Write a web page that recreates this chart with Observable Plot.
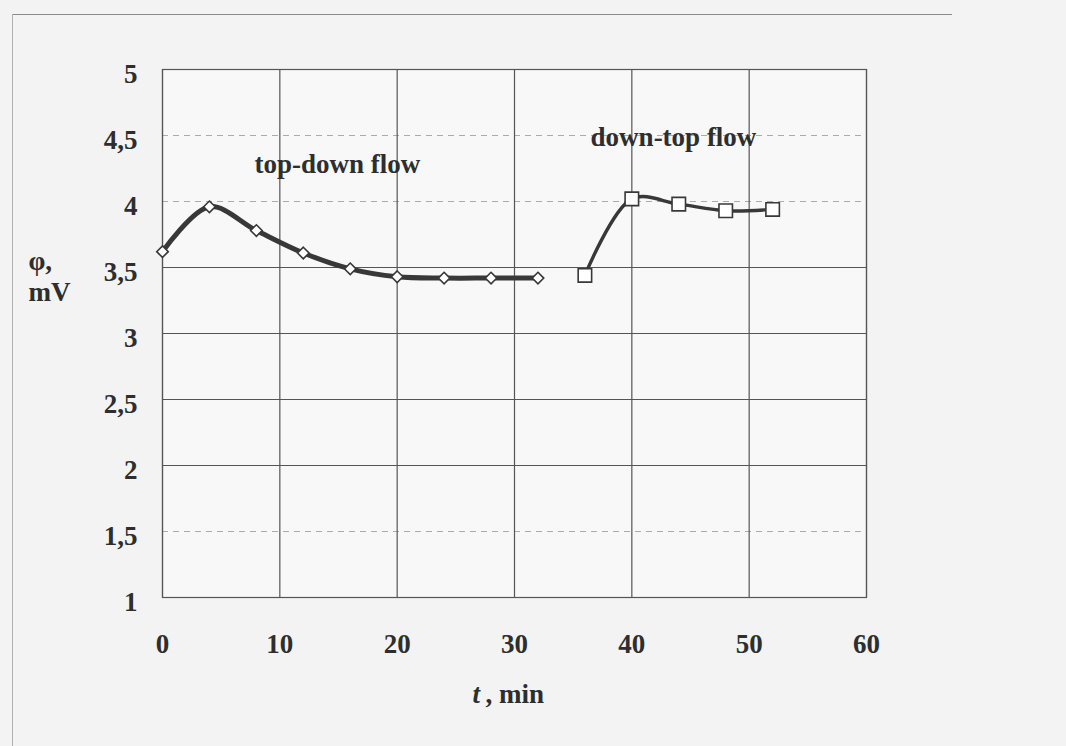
<!DOCTYPE html>
<html>
<head>
<meta charset="utf-8">
<script src="https://cdn.jsdelivr.net/npm/d3@7"></script>
<script src="https://cdn.jsdelivr.net/npm/@observablehq/plot@0.6"></script>
<style>
  html, body { margin: 0; padding: 0; background: #f3f3f4; }
  #chart { position: relative; width: 1066px; height: 746px; overflow: hidden; }
  #frame-top { position: absolute; left: 12px; top: 14px; width: 940px; height: 0; border-top: 1px solid #8a8a8a; }
  #frame-left { position: absolute; left: 12px; top: 14px; width: 0; height: 740px; border-left: 1px solid #b0b0b0; }
  svg text { font-family: "Liberation Serif", "Times New Roman", serif; }
</style>
</head>
<body>
<div id="chart"><div id="frame-top"></div><div id="frame-left"></div></div>
<script>
// Time (min) and potential φ (mV)
const topDownT = [0, 4, 8, 12, 16, 20, 24, 28, 32];
const topDownPhi = [3.62, 3.96, 3.78, 3.61, 3.49, 3.43, 3.42, 3.42, 3.42];
const downTopT = [36, 40, 44, 48, 52];
const downTopPhi = [3.44, 4.02, 3.98, 3.93, 3.94];

const xTicks = [0, 10, 20, 30, 40, 50, 60];
const yTicks = [1, 1.5, 2, 2.5, 3, 3.5, 4, 4.5, 5];
const yTickLabels = ["1", "1,5", "2", "2,5", "3", "3,5", "4", "4,5", "5"];
const faintY = [1.5, 4, 4.5];

const seriesNames = ["top-down flow", "down-top flow"];

const topDown = topDownT.map((t, i) => ({t, phi: topDownPhi[i]}));
const downTop = downTopT.map((t, i) => ({t, phi: downTopPhi[i]}));

const FS = 27;
const font = {fontFamily: "Liberation Serif, Times New Roman, serif", fontWeight: "bold", fill: "#2e2e2e"};

const plot = Plot.plot({
  width: 1066,
  height: 746,
  marginLeft: 162,
  marginRight: 200,
  marginTop: 69,
  marginBottom: 149,
  style: {background: "transparent", fontFamily: "Liberation Serif, Times New Roman, serif", fontSize: FS + "px", fontWeight: "bold", color: "#2e2e2e", overflow: "visible"},
  x: {domain: [0, 60], label: null},
  y: {domain: [1, 5], label: null},
  marks: [
    Plot.frame({fill: "#f8f8f8"}),
    Plot.ruleY(yTicks.filter(v => !faintY.includes(v)), {y: d => d, stroke: "#555555", strokeWidth: 1.2}),
    Plot.ruleY(faintY, {y: d => d, stroke: "#8a8a8a", strokeWidth: 1, strokeDasharray: "6,5", strokeOpacity: 0.7}),
    Plot.ruleX(xTicks, {x: d => d, stroke: "#555555", strokeWidth: 1.2}),
    Plot.frame({stroke: "#555555", strokeWidth: 1.2}),
    Plot.axisX({ticks: xTicks, tickSize: 0, tickPadding: 36, fontSize: FS, ...font, label: null}),
    Plot.axisY({ticks: yTicks, tickSize: 0, tickPadding: 25, fontSize: FS, ...font, dy: 5, label: null,
      tickFormat: v => yTickLabels[yTicks.indexOf(v)]}),
    Plot.line(topDown, {x: "t", y: "phi", curve: "catmull-rom", stroke: "#383838", strokeWidth: 5}),
    Plot.dot(topDown, {x: "t", y: "phi", symbol: "diamond2", r: 5.2, fill: "#ffffff", stroke: "#383838", strokeWidth: 1.6}),
    Plot.line(downTop, {x: "t", y: "phi", curve: "catmull-rom", stroke: "#383838", strokeWidth: 3.4}),
    Plot.dot(downTop, {x: "t", y: "phi", symbol: "square", r: 7.6, fill: "#ffffff", stroke: "#383838", strokeWidth: 1.6}),
    Plot.text([seriesNames[0]], {x: 14.9, y: 4.28, text: d => d, fontSize: FS, ...font}),
    Plot.text([seriesNames[1]], {x: 43.55, y: 4.485, text: d => d, fontSize: FS, ...font}),
    Plot.text(["φ,"], {frameAnchor: "top-left", dx: -134, dy: 181, textAnchor: "start", fontSize: FS, ...font}),
    Plot.text(["mV"], {frameAnchor: "top-left", dx: -134, dy: 212, textAnchor: "start", fontSize: FS, ...font}),
    Plot.text(["t"], {frameAnchor: "bottom-left", dx: 472 - 162, dy: 105, fontSize: FS, ...font, fontStyle: "italic"}),
    Plot.text([", min"], {frameAnchor: "bottom-left", dx: 485 - 162, dy: 105, textAnchor: "start", fontSize: FS, ...font})
  ]
});
plot.style.position = "absolute";
plot.style.left = "0px";
plot.style.top = "0px";
document.getElementById("chart").appendChild(plot);
</script>
</body>
</html>
